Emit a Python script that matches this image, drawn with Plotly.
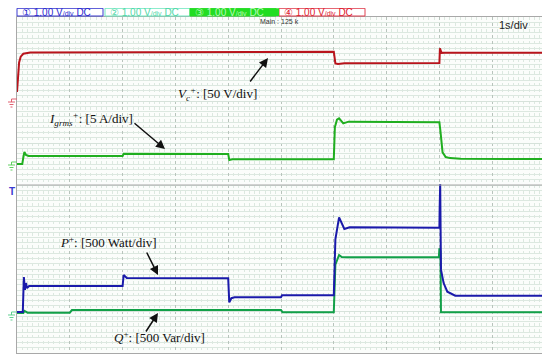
import plotly.graph_objects as go

# ---------------- data (time in s, physical units) ----------------
vc_t = [0.00, 0.02, 0.04, 0.07, 0.12, 0.25, 2.00, 2.02, 6.00, 6.03, 6.08, 6.20, 8.00, 8.01, 8.04, 8.10, 10.0]
vc_v = [12, 30, 47, 54, 57.5, 59, 59.1, 59.9, 59.9, 46, 45.2, 46.2, 46.4, 63.9, 58.5, 58.7, 58.7]

ig_t = [0.00, 0.10, 0.12, 0.14, 0.17, 0.22, 2.00, 2.02, 4.00, 4.02, 4.08, 6.00, 6.02, 6.06, 6.10, 6.18, 6.28, 8.00, 8.02, 8.06, 8.12, 8.20, 8.40, 10.0]
ig_v = [0.12, 0.12, 0.9, 1.55, 1.2, 1.07, 1.07, 1.33, 1.31, 0.6, 0.68, 0.68, 4.5, 5.4, 5.56, 4.96, 5.16, 5.08, 4.0, 1.5, 0.95, 0.82, 0.74, 0.72]

p_t = [0.00, 0.11, 0.13, 0.15, 0.17, 0.19, 0.23, 2.00, 2.02, 2.08, 4.00, 4.02, 4.06, 4.12, 5.00, 5.02, 6.00, 6.03, 6.10, 6.20, 6.30, 8.00, 8.005, 8.015, 8.03, 8.08, 8.15, 8.30, 10.0]
p_v = [36, 36, 452, 300, 380, 320, 345, 345, 476, 440, 437, 150, 200, 211, 211, 234, 234, 900, 1163, 1024, 1044, 1040, 1270, 1560, 540, 380, 277, 230, 230]

q_t = [0.00, 0.12, 0.14, 0.20, 1.00, 1.04, 4.00, 5.00, 5.03, 6.00, 6.03, 6.10, 6.15, 6.25, 7.99, 8.00, 8.02, 8.03, 10.0]
q_v = [24, 24, 48, 27, 27, 58, 60, 60, 32, 32, 600, 714, 690, 687, 690, 794, 760, 32, 32]

# channel settings: (ground position in divisions from bottom, units per division)
vc_gnd, vc_scale = 5.976, 50.0
ig_gnd, ig_scale = 4.476, 5.0
p_gnd, p_scale = 0.905, 500.0
q_gnd, q_scale = 0.905, 500.0

def to_div(vals, gnd, scale):
    return [gnd + v / scale for v in vals]

fig = go.Figure()
fig.add_trace(go.Scatter(x=vc_t, y=to_div(vc_v, vc_gnd, vc_scale), mode="lines",
                         line=dict(color="#b8141c", width=2)))
fig.add_trace(go.Scatter(x=ig_t, y=to_div(ig_v, ig_gnd, ig_scale), mode="lines",
                         line=dict(color="#1fae1f", width=2)))
fig.add_trace(go.Scatter(x=q_t, y=to_div(q_v, q_gnd, q_scale), mode="lines",
                         line=dict(color="#12a048", width=2)))
fig.add_trace(go.Scatter(x=p_t, y=to_div(p_v, p_gnd, p_scale), mode="lines",
                         line=dict(color="#1a1aaa", width=2)))

serif = "Liberation Serif"
ann = []
def label(text, x, y):
    ann.append(dict(x=x, y=y, xref="x", yref="y", text=text, showarrow=False,
                    font=dict(family=serif, size=13, color="#111"), xanchor="center", yanchor="middle"))
def arrow(x0, y0, x1, y1):
    ann.append(dict(x=x1, y=y1, ax=x0, ay=y0, xref="x", yref="y", axref="x", ayref="y",
                    text="", showarrow=True, arrowhead=2, arrowsize=1.2, arrowwidth=1.5,
                    arrowcolor="#111"))

label("<i>V<sub>c</sub><sup>+</sup></i>: [50 V/div]", 3.80, 6.17)
arrow(4.394, 6.43, 4.754, 7.024)
label("<i>I<sub>grms</sub><sup>+</sup></i>: [5 A/div]", 1.40, 5.57)
arrow(2.197, 5.50, 2.803, 4.857)
label("<i>P</i><sup>+</sup>: [500 Watt/div]", 1.742, 2.643)
arrow(2.443, 2.429, 2.67, 1.857)
label("<i>Q</i><sup>+</sup>: [500 Var/div]", 2.69, 0.381)
arrow(2.424, 0.476, 2.67, 0.952)

# header channel boxes (positions given in page pixels; plot area spans x 17..545, y 17..353)
W = 528.0
def px(xp):
    return (xp - 17) / W
def py(yp):
    return (353 - yp) / 336.0

shapes = []
small = "<span style='font-size:7px'>/div</span>"
boxes = [
    (17, 103, "#ffffff", "#3a3ad0", "① 1.00 V" + small + " DC", "#2a2ad0"),
    (105, 190, "#ffffff", "#70e8c0", "② 1.00 V" + small + " DC", "#50d8a8"),
    (190, 276, "#22dd22", "#22dd22", "③ 1.00 V" + small + " DC", "#b8f8b8"),
    (279, 365, "#ffffff", "#e04050", "④ 1.00 V" + small + " DC", "#e02030"),
]
for x0, x1, fill, border, txt, tcol in boxes:
    shapes.append(dict(type="rect", xref="paper", yref="paper", x0=px(x0), x1=px(x1),
                       y0=py(16), y1=py(8.3), fillcolor=fill, line=dict(color=border, width=1)))
    ann.append(dict(xref="paper", yref="paper", x=px(x0 + 3), y=py(12.6), text=txt,
                    showarrow=False, xanchor="left", yanchor="middle",
                    font=dict(family="Liberation Sans", size=10, color=tcol)))
shapes.append(dict(type="rect", xref="paper", yref="paper", x0=px(276), x1=px(279),
                   y0=py(16), y1=py(8.3), fillcolor="#22dd22", line=dict(width=0)))

ann.append(dict(xref="paper", yref="paper", x=px(258), y=py(21.5), text="Main : 125 k",
                showarrow=False, xanchor="left", yanchor="middle",
                font=dict(family="Liberation Sans", size=7, color="#333")))
ann.append(dict(xref="paper", yref="paper", x=px(497), y=py(24.5), text="1s/div",
                showarrow=False, xanchor="left", yanchor="middle",
                font=dict(family="Liberation Sans", size=11, color="#222")))

# ground markers
def gnd_marker(ydiv, color):
    yp = 353 - ydiv * 42
    for dy, a, b in [(0, 8, 15), (2.5, 9.5, 13.5), (5, 10.5, 12.5)]:
        shapes.append(dict(type="line", xref="paper", yref="paper", x0=px(a), x1=px(b),
                           y0=py(yp + dy), y1=py(yp + dy), line=dict(color=color, width=1)))
    shapes.append(dict(type="line", xref="paper", yref="paper", x0=px(11.5), x1=px(11.5),
                       y0=py(yp - 3), y1=py(yp), line=dict(color=color, width=1)))
    shapes.append(dict(type="line", xref="paper", yref="paper", x0=px(11.5), x1=px(17),
                       y0=py(yp - 3), y1=py(yp - 3), line=dict(color=color, width=1)))

gnd_marker(vc_gnd, "#e06070")
gnd_marker(ig_gnd, "#60d060")
gnd_marker(q_gnd, "#60d090")
ann.append(dict(xref="paper", yref="paper", x=px(11.5), y=py(192), text="<b>T</b>",
                showarrow=False, xanchor="center", yanchor="middle",
                font=dict(family="Liberation Sans", size=10, color="#3a3ad0")))

# panel separator
shapes.append(dict(type="line", xref="paper", yref="y", x0=0, x1=1, y0=4, y1=4,
                   line=dict(color="#a8a8a8", width=1.2)))

# the page body adds an 8 px offset, so margins are reduced accordingly
fig.update_layout(
    width=550, height=363,
    margin=dict(l=9, r=13, t=9, b=18),
    paper_bgcolor="#ffffff", plot_bgcolor="#fbfdfb",
    showlegend=False,
    annotations=ann, shapes=shapes,
    xaxis=dict(range=[0, 10], dtick=1, showticklabels=False, ticks="",
               showgrid=True, gridcolor="#b8c4bc", griddash="dot", gridwidth=1,
               minor=dict(dtick=0.1, showgrid=True, gridcolor="#dce8e0", gridwidth=1),
               zeroline=False, showline=True, linecolor="#a8a8a8", linewidth=1.2, mirror=True),
    yaxis=dict(range=[0, 8], dtick=1, showticklabels=False, ticks="",
               showgrid=True, gridcolor="#d6e2da", gridwidth=1,
               minor=dict(dtick=0.125, showgrid=True, gridcolor="#dce8e0", gridwidth=1),
               zeroline=False, showline=True, linecolor="#a8a8a8", linewidth=1.2, mirror=True),
)

fig.write_html("out.html")
